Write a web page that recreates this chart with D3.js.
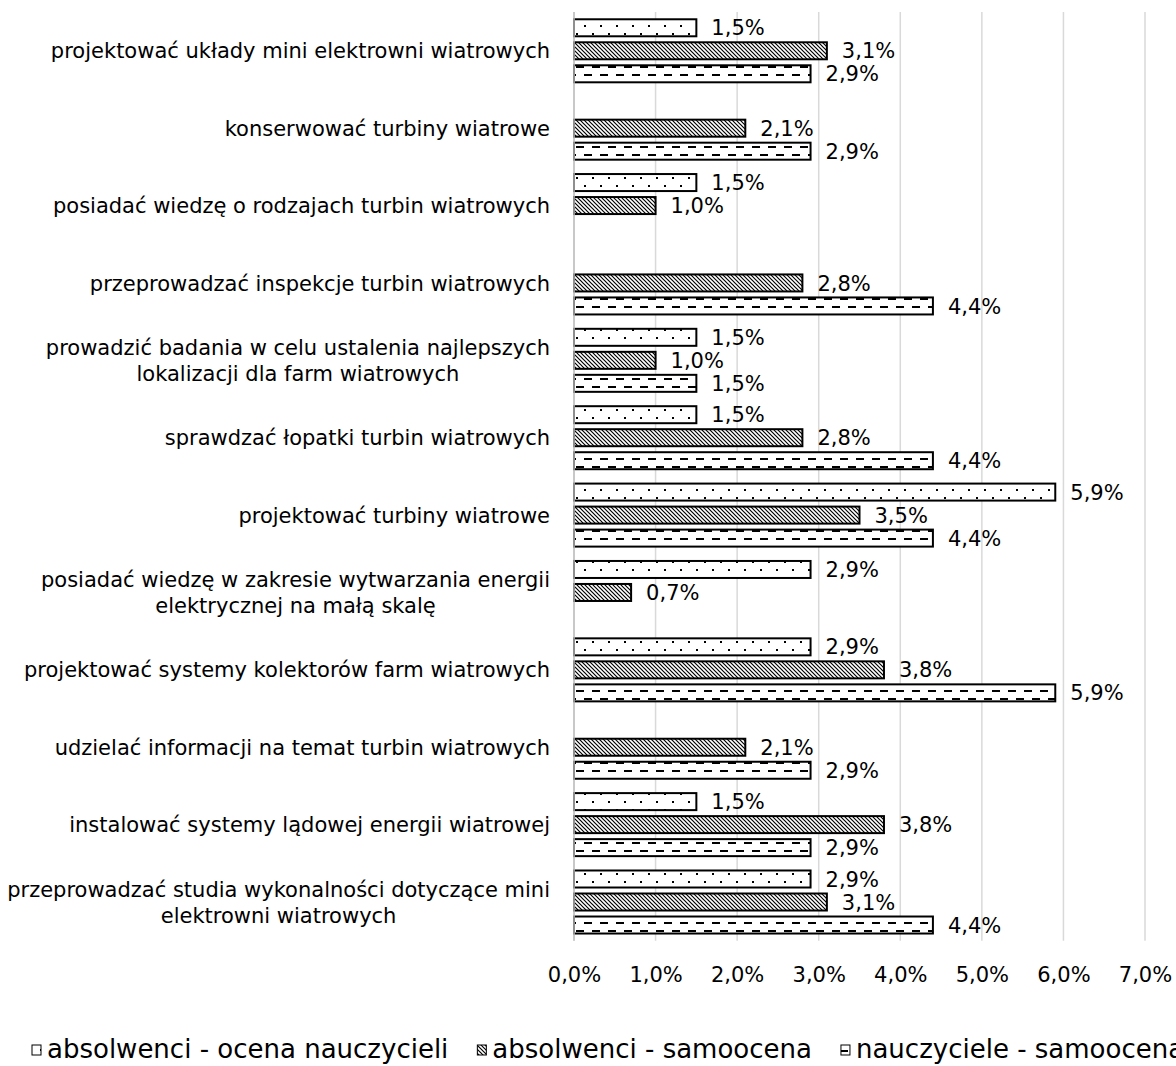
<!DOCTYPE html>
<html>
<head>
<meta charset="utf-8">
<script src="https://cdn.jsdelivr.net/npm/d3@7"></script>
<style>
  html, body { margin: 0; padding: 0; background: #ffffff; }
  svg { display: block; font-family: "DejaVu Sans", Verdana, sans-serif; }
</style>
</head>
<body>
<svg id="chart" width="1176" height="1066"></svg>
<script>
// ---------------- data ----------------
const categories = [
  "projektować układy mini elektrowni wiatrowych",
  "konserwować turbiny wiatrowe",
  "posiadać wiedzę o rodzajach turbin wiatrowych",
  "przeprowadzać inspekcje turbin wiatrowych",
  "prowadzić badania w celu ustalenia najlepszych\nlokalizacji dla farm wiatrowych",
  "sprawdzać łopatki turbin wiatrowych",
  "projektować turbiny wiatrowe",
  "posiadać wiedzę w zakresie wytwarzania energii\nelektrycznej na małą skalę",
  "projektować systemy kolektorów farm wiatrowych",
  "udzielać informacji na temat turbin wiatrowych",
  "instalować systemy lądowej energii wiatrowej",
  "przeprowadzać studia wykonalności dotyczące mini\nelektrowni wiatrowych"
];
const seriesNames = ["absolwenci - ocena nauczycieli", "absolwenci - samoocena", "nauczyciele - samoocena"];
const absolwenciOcenaNauczycieli = [1.5, null, 1.5, null, 1.5, 1.5, 5.9, 2.9, 2.9, null, 1.5, 2.9];
const absolwenciSamoocena       = [3.1, 2.1, 1.0, 2.8, 1.0, 2.8, 3.5, 0.7, 3.8, 2.1, 3.8, 3.1];
const nauczycieleSamoocena      = [2.9, 2.9, null, 4.4, 1.5, 4.4, 4.4, null, 5.9, 2.9, 2.9, 4.4];
const xTicks = [0, 1, 2, 3, 4, 5, 6, 7];

const seriesValues = [absolwenciOcenaNauczycieli, absolwenciSamoocena, nauczycieleSamoocena];
const patternIds = ["pDots", "pHatch", "pDash"];
const fmt = v => v.toFixed(1).replace(".", ",") + "%";

// ---------------- layout ----------------
const svg = d3.select("#chart");
const FS = 21;
const x = d3.scaleLinear().domain([0, 7]).range([574, 1145]);
const y = d3.scaleBand().domain(d3.range(categories.length))
  .range([12.1, 940.7]).paddingInner(0.108).paddingOuter(0.054);
const y1 = d3.scaleBand().domain(d3.range(seriesNames.length)).range([0, y.bandwidth()]);

// ---------------- patterns ----------------
const defs = svg.append("defs");
const pd = defs.append("pattern").attr("id", "pDots").attr("patternUnits", "userSpaceOnUse")
  .attr("width", 16).attr("height", 16);
pd.append("rect").attr("width", 16).attr("height", 16).attr("fill", "#fff");
pd.append("rect").attr("x", 0).attr("y", 1).attr("width", 2).attr("height", 2).attr("fill", "#000");
pd.append("rect").attr("x", 8).attr("y", 9).attr("width", 2).attr("height", 2).attr("fill", "#000");

const ph = defs.append("pattern").attr("id", "pHatch").attr("patternUnits", "userSpaceOnUse")
  .attr("width", 4).attr("height", 4);
ph.append("rect").attr("width", 4).attr("height", 4).attr("fill", "#fff");
ph.append("path").attr("d", "M-1,-1 L5,5 M-1,3 L1,5 M3,-1 L5,1")
  .attr("stroke", "#000").attr("stroke-width", 1.2);

const pdash = defs.append("pattern").attr("id", "pDash").attr("patternUnits", "userSpaceOnUse")
  .attr("width", 16).attr("height", 16);
pdash.append("rect").attr("width", 16).attr("height", 16).attr("fill", "#fff");
pdash.append("rect").attr("x", 0).attr("y", 2).attr("width", 8).attr("height", 2).attr("fill", "#000");
pdash.append("rect").attr("x", 8).attr("y", 10).attr("width", 8).attr("height", 2).attr("fill", "#000");

// ---------------- gridlines ----------------
const [plotTop, plotBottom] = y.range();
svg.append("g").selectAll("line").data(xTicks).join("line")
  .attr("x1", d => x(d)).attr("x2", d => x(d))
  .attr("y1", plotTop).attr("y2", plotBottom)
  .attr("stroke", "#d9d9d9").attr("stroke-width", 1.5);

// x axis tick labels
const xAxis = d3.axisBottom(x).tickValues(xTicks).tickSize(0).tickPadding(0)
  .tickFormat(d => d.toFixed(1).replace(".", ",") + "%");
const gx = svg.append("g").attr("transform", `translate(0,${plotBottom})`).call(xAxis);
gx.select(".domain").remove();
gx.selectAll("text").attr("font-size", FS).attr("fill", "#000")
  .attr("font-family", "DejaVu Sans, Verdana, sans-serif")
  .attr("dy", null).attr("y", 41);

// ---------------- bars ----------------
const barData = [];
categories.forEach((c, i) => {
  seriesValues.forEach((vals, s) => {
    if (vals[i] !== null && vals[i] !== undefined) barData.push({ i, s, v: vals[i] });
  });
});

const gBars = svg.append("g");
gBars.selectAll("rect").data(barData).join("rect")
  .attr("x", x(0))
  .attr("y", d => y(d.i) + y1(d.s) + 3)
  .attr("width", d => x(d.v) - x(0))
  .attr("height", y1.bandwidth() - 6)
  .attr("fill", d => `url(#${patternIds[d.s]})`)
  .attr("stroke", "#000").attr("stroke-width", 2);

// zero axis line
svg.append("line").attr("x1", x(0)).attr("x2", x(0)).attr("y1", plotTop).attr("y2", plotBottom)
  .attr("stroke", "#bfbfbf").attr("stroke-width", 1.5);

// value labels
svg.append("g").selectAll("text").data(barData).join("text")
  .attr("x", d => x(d.v) + 15)
  .attr("y", d => y(d.i) + y1(d.s) + y1.bandwidth() / 2)
  .attr("dy", "0.36em")
  .attr("font-size", FS).attr("fill", "#000")
  .text(d => fmt(d.v));

// ---------------- category labels ----------------
const gCat = svg.append("g");
const labelRight = 550;
const lineH = 26;
categories.forEach((c, i) => {
  const lines = c.split("\n");
  const cy = y(i) + y.bandwidth() / 2;
  const t = gCat.append("text").attr("font-size", FS).attr("fill", "#000");
  const tspans = lines.map((ln, k) => t.append("tspan")
    .attr("y", cy + (k - (lines.length - 1) / 2) * lineH)
    .attr("dy", "0.36em").text(ln));
  if (lines.length === 1) {
    t.attr("text-anchor", "end");
    tspans[0].attr("x", labelRight);
  } else {
    const w = d3.max(tspans, ts => ts.node().getComputedTextLength());
    t.attr("text-anchor", "middle");
    tspans.forEach(ts => ts.attr("x", labelRight - w / 2));
  }
});

// ---------------- legend ----------------
const gLeg = svg.append("g");
let lx = 32;
const legBase = 1058;
seriesNames.forEach((name, s) => {
  gLeg.append("rect").attr("x", lx).attr("y", 1045).attr("width", 9).attr("height", 10)
    .attr("fill", `url(#${patternIds[s]})`).attr("stroke", "#000").attr("stroke-width", 1);
  const t = gLeg.append("text").attr("x", lx + 15).attr("y", legBase)
    .attr("font-size", 26).attr("fill", "#000").text(name);
  lx = lx + 15 + t.node().getComputedTextLength() + 29;
});
</script>
</body>
</html>
